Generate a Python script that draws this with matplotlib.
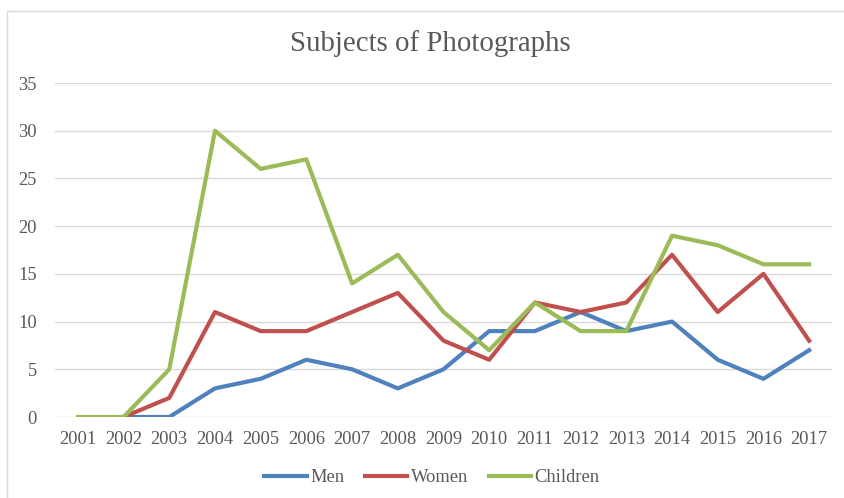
import numpy as np
import matplotlib
matplotlib.use("Agg")
from matplotlib import pyplot as plt
from matplotlib.patches import Rectangle

years = [str(y) for y in range(2001, 2018)]
men = [np.nan, 0, 0, 3, 4, 6, 5, 3, 5, 9, 9, 11, 9, 10, 6, 4, 7]
women = [np.nan, 0, 2, 11, 9, 9, 11, 13, 8, 6, 12, 11, 12, 17, 11, 15, 8]
children = [0, 0, 5, 30, 26, 27, 14, 17, 11, 7, 12, 9, 9, 19, 18, 16, 16]

text_col = "#595959"
plt.rcParams["font.family"] = ["Liberation Serif", "DejaVu Serif"]

fig = plt.figure(figsize=(8.44, 4.98), dpi=100)
fig.patches.append(Rectangle((7 / 844, -0.1), 2, 1.1 - 11 / 498, transform=fig.transFigure,
                             fill=False, edgecolor="#d9d9d9", linewidth=1))
ax = fig.add_axes([55 / 844, 1 - 417 / 498, (832 - 55) / 844, (417 - 83) / 498])

x = np.arange(len(years))
ax.plot(x, men, color="#4f81bd", lw=3, label="Men", solid_joinstyle="round")
ax.plot(x, women, color="#c0504d", lw=3, label="Women", solid_joinstyle="round")
ax.plot(x, children, color="#9bbb59", lw=3, label="Children", solid_joinstyle="round")

ax.set_xlim(-0.5, len(years) - 0.5)
ax.set_ylim(0, 35)
ax.set_yticks(range(0, 36, 5))
ax.set_xticks(x)
ax.set_xticklabels(years)
ax.yaxis.grid(True, color="#d9d9d9", lw=1)
ax.set_axisbelow(True)
for s in ax.spines.values():
    s.set_visible(False)
ax.tick_params(length=0, colors=text_col, labelsize=13.3)
ax.tick_params(axis="x", pad=10)
ax.tick_params(axis="y", pad=13)

fig.text(430 / 844, 1 - 44 / 498, "Subjects of Photographs", ha="center", va="center",
         fontsize=20.8, color=text_col)
ax.legend(loc="center", bbox_to_anchor=(432 / 844, 1 - 478 / 498), bbox_transform=fig.transFigure,
          ncol=3, frameon=False, fontsize=13.3, labelcolor=text_col, handlelength=2.3,
          columnspacing=1.1, handletextpad=0.2)

fig.savefig("out.png", dpi=100)
